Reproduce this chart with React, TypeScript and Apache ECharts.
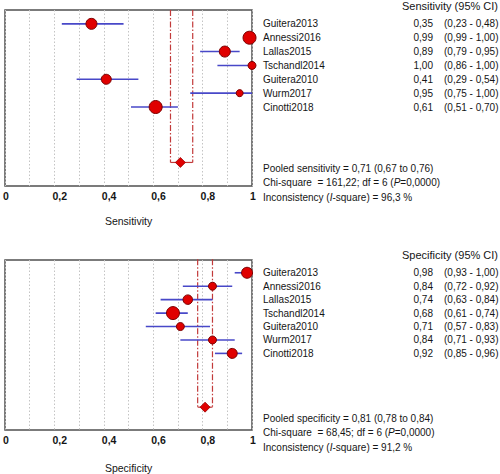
import React, { useEffect, useRef } from "react";
import * as echarts from "echarts";

const studies = ["Guitera2013", "Annessi2016", "Lallas2015", "Tschandl2014", "Guitera2010", "Wurm2017", "Cinotti2018"];

const sensitivity = [0.35, 0.99, 0.89, 1.0, 0.41, 0.95, 0.61];
const sensLower = [0.23, 0.99, 0.79, 0.86, 0.29, 0.75, 0.51];
const sensUpper = [0.48, 1.0, 0.95, 1.0, 0.54, 1.0, 0.7];
const sensWeights = [11, 13, 11, 8, 10, 7, 13];

const specificity = [0.98, 0.84, 0.74, 0.68, 0.71, 0.84, 0.92];
const specLower = [0.93, 0.72, 0.63, 0.61, 0.57, 0.71, 0.85];
const specUpper = [1.0, 0.92, 0.84, 0.74, 0.83, 0.93, 0.96];
const specWeights = [11, 8, 9.5, 13, 8, 8, 10];

// pooled estimate, lower, upper
const pooledSens = [0.71, 0.67, 0.76];
const pooledSpec = [0.81, 0.78, 0.84];

// chi-square, df, P, I-square
const hetSens = [161.22, 6, 0.0, 96.3];
const hetSpec = [68.45, 6, 0.0, 91.2];

const POOLED_ROW = 10;
const Y_MIN = -1;

const FONT = "Liberation Sans, Arial, Helvetica, sans-serif";
const TXT = "#151515";
const RED = "#e00000";
const DARKRED = "#7a0000";
const BLUE = "#4848c8";
const DASH = "#c23a3a";

const fmt = (v: number, d = 2) => v.toFixed(d).replace(".", ",");

function textEl(x: number, y: number, text: string, align: string, size = 10) {
  return {
    type: "text",
    x,
    y,
    silent: true,
    style: {
      text,
      fill: TXT,
      fontSize: size,
      fontFamily: FONT,
      align,
      textAlign: align,
      verticalAlign: "middle",
      textVerticalAlign: "middle",
    },
  };
}

function panelSeries(
  gi: number,
  est: number[],
  lo: number[],
  hi: number[],
  w: number[],
  pooled: number[]
) {
  const rows = est.map((_, i) => i);
  return [
    {
      type: "custom",
      xAxisIndex: gi,
      yAxisIndex: gi,
      z: 2,
      data: [[pooled[1], pooled[2], POOLED_ROW]],
      renderItem: (_p: any, api: any) => {
        const l = api.value(0);
        const h = api.value(1);
        const r = api.value(2);
        const lt = api.coord([l, Y_MIN]);
        const lb = api.coord([l, r]);
        const ht = api.coord([h, Y_MIN]);
        const hb = api.coord([h, r]);
        const st = { stroke: DASH, lineWidth: 1.2, lineDash: [6, 2, 1.5, 2] };
        return {
          type: "group",
          children: [
            { type: "line", shape: { x1: lt[0], y1: lt[1], x2: lb[0], y2: lb[1] }, style: st },
            { type: "line", shape: { x1: ht[0], y1: ht[1], x2: hb[0], y2: hb[1] }, style: st },
            { type: "line", shape: { x1: lb[0], y1: lb[1], x2: hb[0], y2: hb[1] }, style: { stroke: DASH, lineWidth: 1.2 } },
          ],
        };
      },
    },
    {
      type: "custom",
      xAxisIndex: gi,
      yAxisIndex: gi,
      z: 3,
      data: rows.map((i) => [lo[i], hi[i], i]),
      renderItem: (_p: any, api: any) => {
        const a = api.coord([api.value(0), api.value(2)]);
        const b = api.coord([api.value(1), api.value(2)]);
        return {
          type: "line",
          shape: { x1: a[0], y1: a[1], x2: b[0], y2: b[1] },
          style: { stroke: BLUE, lineWidth: 1.6 },
        };
      },
    },
    {
      type: "scatter",
      xAxisIndex: gi,
      yAxisIndex: gi,
      z: 4,
      data: rows.map((i) => [est[i], i, w[i]]),
      symbol: "circle",
      symbolSize: (v: number[]) => v[2],
      itemStyle: { color: RED, borderColor: DARKRED, borderWidth: 1, opacity: 1 },
    },
    {
      type: "scatter",
      xAxisIndex: gi,
      yAxisIndex: gi,
      z: 4,
      data: [[pooled[0], POOLED_ROW]],
      symbol: "diamond",
      symbolSize: 10,
      itemStyle: { color: RED, borderColor: "#990000", borderWidth: 0.8, opacity: 1 },
    },
    {
      type: "custom",
      xAxisIndex: gi,
      yAxisIndex: gi,
      z: 5,
      data: rows.map((i) => [i, est[i], lo[i], hi[i]]),
      renderItem: (p: any, api: any) => {
        const y = api.coord([0, api.value(0)])[1];
        const i = p.dataIndex;
        return {
          type: "group",
          children: [
            textEl(263, y, studies[i], "left"),
            textEl(433, y, fmt(api.value(1)), "right"),
            textEl(444, y, "(" + fmt(api.value(2)) + " - " + fmt(api.value(3)) + ")", "left"),
          ],
        };
      },
    },
  ];
}

function xAxis(gi: number, name: string, gap: number) {
  return {
    type: "value",
    gridIndex: gi,
    min: 0,
    max: 1,
    interval: 0.1,
    name,
    nameLocation: "middle",
    nameGap: gap,
    nameTextStyle: { fontSize: 10.5, color: TXT, fontFamily: FONT },
    axisLine: { show: false },
    axisTick: { show: false },
    splitLine: { show: true, lineStyle: { color: "#c4c4c4", type: [1.5, 2], width: 1 } },
    axisLabel: {
      show: true,
      margin: 4,
      fontSize: 10.5,
      fontWeight: "bold",
      color: TXT,
      fontFamily: FONT,
      align: "left",
      padding: [0, 0, 0, -2],
      showMinLabel: true,
      showMaxLabel: true,
      formatter: (v: number) => {
        const k = Math.round(v * 10);
        if (k % 2 !== 0) return "";
        if (k === 0) return "0";
        if (k === 10) return "1";
        return fmt(k / 10, 1);
      },
    },
  };
}

function pooledText(x: number, y: number, label: string, pooled: number[], het: number[]) {
  const rich = {
    n: { fontSize: 10, fontFamily: FONT, fill: TXT, color: TXT },
    i: { fontSize: 10, fontFamily: FONT, fill: TXT, color: TXT, fontStyle: "italic" },
  };
  const mk = (yy: number, text: string) => ({
    type: "text",
    left: x,
    top: yy - 6,
    silent: true,
    style: { text, rich, fill: TXT, fontSize: 10, fontFamily: FONT },
  });
  return [
    mk(y, `{n|Pooled ${label} = ${fmt(pooled[0])} (${fmt(pooled[1])} to ${fmt(pooled[2])})}`),
    mk(y + 14, `{n|Chi-square  = ${fmt(het[0])}; df = ${het[1]} (}{i|P}{n|=${fmt(het[2], 4)})}`),
    mk(y + 29, `{n|Inconsistency (}{i|I}{n|-square) = ${fmt(het[3], 1)} %}`),
  ];
}

export default function App() {
  const ref = useRef<HTMLDivElement>(null);
  useEffect(() => {
    if (!ref.current) return;
    const chart = echarts.init(ref.current, null, { renderer: "svg" });
    const option: any = {
      animation: false,
      backgroundColor: "#ffffff",
      textStyle: { fontFamily: FONT },
      grid: [
        { left: 5, top: 10, width: 247, height: 176, show: true, borderColor: "#505050", borderWidth: 1.5, backgroundColor: "transparent" },
        { left: 5, top: 260, width: 247, height: 175, show: true, borderColor: "#505050", borderWidth: 1.5, backgroundColor: "transparent" },
      ],
      xAxis: [xAxis(0, "Sensitivity", 29), xAxis(1, "Specificity", 32)],
      yAxis: [
        { type: "value", gridIndex: 0, min: Y_MIN, max: 11.7, inverse: true, show: false },
        { type: "value", gridIndex: 1, min: -0.95, max: 11.7, inverse: true, show: false },
      ],
      graphic: [
        {
          type: "text",
          right: 2,
          top: 0,
          silent: true,
          style: { text: "Sensitivity (95% CI)", fill: TXT, fontSize: 11, fontFamily: FONT },
        },
        {
          type: "text",
          right: 2,
          top: 249,
          silent: true,
          style: { text: "Specificity (95% CI)", fill: TXT, fontSize: 11, fontFamily: FONT },
        },
        ...pooledText(263, 169, "sensitivity", pooledSens, hetSens),
        ...pooledText(263, 419, "specificity", pooledSpec, hetSpec),
      ],
      series: [
        ...panelSeries(0, sensitivity, sensLower, sensUpper, sensWeights, pooledSens),
        ...panelSeries(1, specificity, specLower, specUpper, specWeights, pooledSpec),
      ],
    };
    chart.setOption(option);
    return () => chart.dispose();
  }, []);
  return (
    <div
      ref={ref}
      style={{ position: "fixed", left: 0, top: 0, width: 500, height: 474, background: "#fff" }}
    />
  );
}
